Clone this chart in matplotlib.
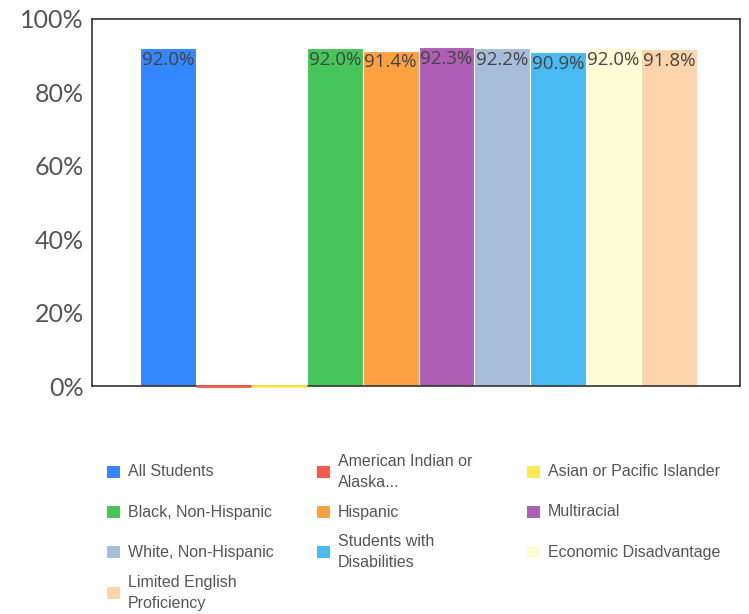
import matplotlib.pyplot as plt
import matplotlib.patches as mpatches
import numpy as np

groups = ['All Students', 'American Indian or\nAlaska...', 'Asian or Pacific Islander',
          'Black, Non-Hispanic', 'Hispanic', 'Multiracial',
          'White, Non-Hispanic', 'Students with\nDisabilities', 'Economic Disadvantage',
          'Limited English\nProficiency']
values = [92.0, 0.0, 0.0, 92.0, 91.4, 92.3, 92.2, 90.9, 92.0, 91.8]
labels = ['92.0%', '', '', '92.0%', '91.4%', '92.3%', '92.2%', '90.9%', '92.0%', '91.8%']
colors = ['#3388FF', '#F55A4E', '#FFE84F', '#46C65A', '#FFA140', '#AE5EB4',
          '#A7BDDA', '#4ABAF3', '#FDFDD5', '#FED4AC']
yticks = [0, 20, 40, 60, 80, 100]

W, H = 749, 614
fig = plt.figure(figsize=(W / 100, H / 100), dpi=100)
ax = fig.add_axes([92 / W, 1 - 386 / H, 648 / W, 367 / H])

x = np.arange(len(values))
for i, v in enumerate(values):
    if v == 0:
        # empty groups show up as a thin coloured line on the baseline
        ax.bar(x[i], v, width=1.0, color=colors[i], edgecolor=colors[i], linewidth=2,
               zorder=3, clip_on=False)
    else:
        ax.bar(x[i], v, width=1.0, color=colors[i], edgecolor='white', linewidth=0.8, zorder=2)
        ax.text(x[i], v - 0.8, labels[i], ha='center', va='top', fontsize=13.5,
                color='#444444', family='Open Sans', zorder=4)

ax.set_xlim(-1.36, 10.27)
ax.set_ylim(0, 100)
ax.set_yticks(yticks)
ax.set_yticklabels([f'{t}%' for t in yticks], fontsize=18, color='#555555', family='Lato')
ax.set_xticks([])
ax.tick_params(axis='y', length=0, pad=6)
for s in ax.spines.values():
    s.set_color('#333333')
    s.set_linewidth(1.2)

# legend, row-major in three columns
col_x = [107, 317, 527]
row_y = [472, 512, 552, 593]
for i, (name, c) in enumerate(zip(groups, colors)):
    r, k = divmod(i, 3)
    cx, cy = col_x[k], row_y[r]
    fig.add_artist(mpatches.Rectangle((cx / W, 1 - (cy + 6) / H), 13 / W, 12 / H,
                                      transform=fig.transFigure, facecolor=c, edgecolor='none'))
    fig.text((cx + 21) / W, 1 - cy / H, name, ha='left', va='center', fontsize=11.5,
             color='#555555', family='Liberation Sans', linespacing=1.45)

fig.savefig('out.png', dpi=100)
